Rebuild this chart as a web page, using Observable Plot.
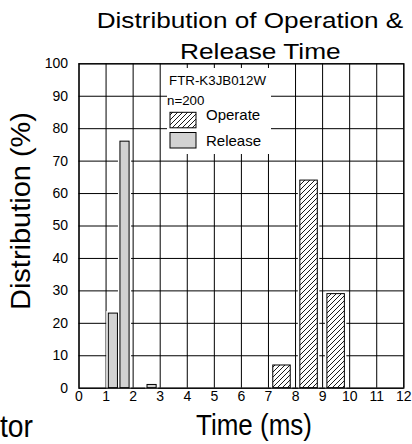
<!DOCTYPE html>
<html><head><meta charset="utf-8">
<script src="https://cdn.jsdelivr.net/npm/d3@7"></script>
<script src="https://cdn.jsdelivr.net/npm/@observablehq/plot@0.6"></script>
<style>body{margin:0;background:#fff} svg{display:block}</style>
</head><body><div id="chart"></div>
<script>
// ---- data ----
const xTicks = [0,1,2,3,4,5,6,7,8,9,10,11,12];
const yTicks = [0,10,20,30,40,50,60,70,80,90,100];
const operateTime = [7.5, 8.5, 9.5];     // ms (bar centres)
const operatePct  = [7, 64, 29];         // %
const releaseTime = [1.27, 1.7, 2.7];    // ms (bar centres)
const releasePct  = [23, 76, 1];         // %
const seriesNames = ["Operate", "Release"];
const legendHeader = ["FTR-K3JB012W", "n=200"];
const titleLines = ["Distribution of Operation &", "Release Time"];
const xLabel = "Time (ms)";
const yLabel = "Distribution (%)";
const cornerText = "tor";

const binWidth = {Operate: 1, Release: 0.5};
const operate = operateTime.map((t, i) => ({series: "Operate", t, v: operatePct[i]}));
const release = releaseTime.map((t, i) => ({series: "Release", t, v: releasePct[i]}));

const FONT = "'Liberation Sans', Arial, Helvetica, sans-serif";
const RELEASE_FILL = "#d2d2d2";

function barMarks(data, fill, inset) {
  const opts = {
    x1: d => d.t - binWidth[d.series] / 2,
    x2: d => d.t + binWidth[d.series] / 2,
    y1: 0, y2: "v",
    insetLeft: inset, insetRight: inset
  };
  return [
    Plot.rect(data, {...opts, fill: "white", stroke: "white", strokeWidth: 4}),
    Plot.rect(data, {...opts, fill, stroke: "black", strokeWidth: 1})
  ];
}

const svg = Plot.plot({
  width: 412, height: 444,
  marginLeft: 78.5, marginRight: 8.7, marginTop: 63.3, marginBottom: 56.3,
  style: {fontFamily: FONT, fontSize: "14px", color: "black", background: "white", overflow: "visible"},
  x: {domain: [0, 12]},
  y: {domain: [0, 100]},
  marks: [
    Plot.gridX(xTicks, {stroke: "black", strokeOpacity: 1, strokeWidth: 1}),
    Plot.gridY(yTicks, {stroke: "black", strokeOpacity: 1, strokeWidth: 1}),
    ...barMarks(operate, "url(#hatch)", 4.8),
    ...barMarks(release, RELEASE_FILL, 2.2),
    Plot.frame({stroke: "black", strokeWidth: 1.2}),
    Plot.axisX(xTicks, {tickSize: 0, tickPadding: 3, label: null, fontSize: 14, fill: "black"}),
    Plot.axisY(yTicks, {tickSize: 0, tickPadding: 11, label: null, fontSize: 14, fill: "black"})
  ]
});

const s = d3.select(svg);
// hatch pattern
const pat = s.append("defs").append("pattern")
  .attr("id", "hatch").attr("patternUnits", "userSpaceOnUse")
  .attr("width", 5).attr("height", 5);
pat.append("rect").attr("width", 5).attr("height", 5).attr("fill", "white");
pat.append("path").attr("d", "M-1,1 L1,-1 M0,5 L5,0 M4,6 L6,4")
  .attr("stroke", "black").attr("stroke-width", 0.9).attr("fill", "none");

function addText(str, x, y, size, len, rotate) {
  const t = s.append("text")
    .attr("font-family", FONT).attr("font-size", size).attr("fill", "black")
    .attr("text-anchor", "start").text(str);
  if (rotate) t.attr("transform", `translate(${x},${y}) rotate(-90)`);
  else t.attr("x", x).attr("y", y);
  if (len) t.attr("textLength", len).attr("lengthAdjust", "spacingAndGlyphs");
  return t;
}

// title
addText(titleLines[0], 96.7, 28.3, 21.5, 306.6);
addText(titleLines[1], 180, 58.5, 21.5, 160.7);
// axis labels
addText(xLabel, 196, 435, 30, 116);
addText(yLabel, 29.5, 310, 28, 198, true);
addText(cornerText, 0, 436.7, 31, 33);

// legend
s.append("rect").attr("x", 167).attr("y", 68).attr("width", 104).attr("height", 86).attr("fill", "white");
addText(legendHeader[0], 169, 85, 13.3, 97);
addText(legendHeader[1], 167, 104.7, 13.3);
const swatchFill = {Operate: "url(#hatch)", Release: RELEASE_FILL};
const swatchY = [112.3, 132.5];
const labelY = [120, 145.5];
seriesNames.forEach((name, i) => {
  s.append("rect").attr("x", 170).attr("y", swatchY[i]).attr("width", 26).attr("height", 15.5)
    .attr("fill", swatchFill[name]).attr("stroke", "black").attr("stroke-width", 1);
  addText(name, 206, labelY[i], 15);
});

document.getElementById("chart").appendChild(svg);
</script>
</body></html>
